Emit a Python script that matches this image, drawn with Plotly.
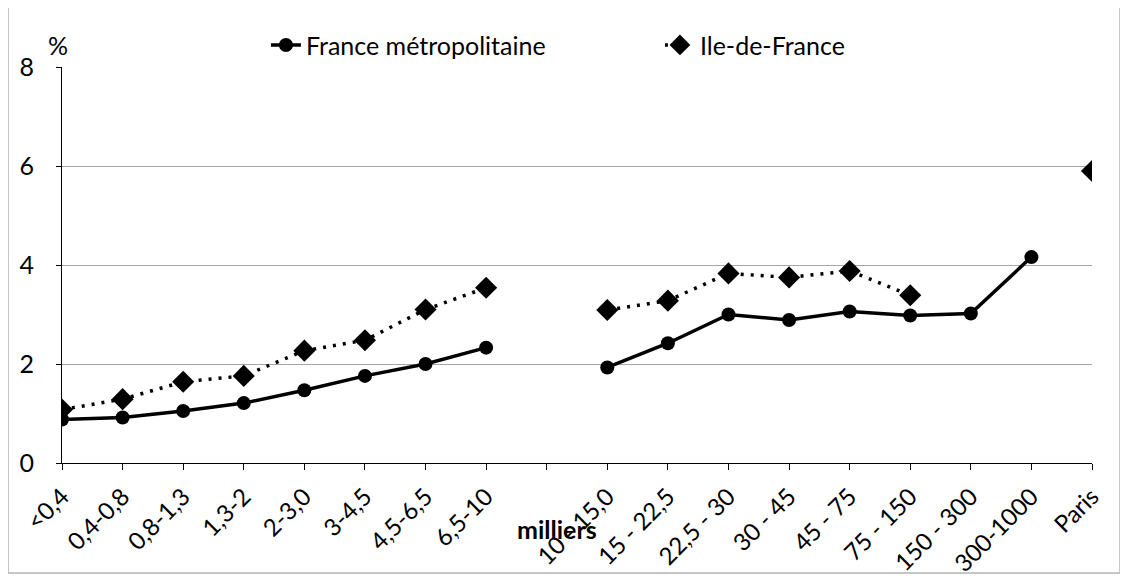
import plotly.graph_objects as go

categories = ["<0,4", "0,4-0,8", "0,8-1,3", "1,3-2", "2-3,0", "3-4,5", "4,5-6,5", "6,5-10", " ",
              "10 - 15,0", "15 - 22,5", "22,5 - 30", "30 - 45", "45 - 75", "75 - 150",
              "150 - 300", "300-1000", "Paris"]
france_metro = [0.88, 0.92, 1.05, 1.21, 1.47, 1.76, 2.00, 2.33, None,
                1.93, 2.42, 3.00, 2.89, 3.06, 2.98, 3.02, 4.16, None]
ile_de_france = [1.08, 1.29, 1.64, 1.76, 2.27, 2.48, 3.10, 3.54, None,
                 3.09, 3.28, 3.83, 3.75, 3.88, 3.39, None, None, 5.90]
y_ticks = [0, 2, 4, 6, 8]

FONT = "Lato"
FS = 25

fig = go.Figure()
fig.add_trace(go.Scatter(
    x=categories, y=france_metro, name="France métropolitaine",
    mode="lines+markers",
    line=dict(color="black", width=3.5),
    marker=dict(symbol="circle", size=14, color="black"),
    connectgaps=False,
))
fig.add_trace(go.Scatter(
    x=categories, y=ile_de_france, name="Ile-de-France",
    mode="lines+markers",
    line=dict(color="black", width=3.5, dash="3px,7px"),
    marker=dict(symbol="diamond", size=17, color="black"),
    connectgaps=False,
))

# page body has an 8px margin, so the margins are shifted by 8px
fig.update_layout(
    width=1128, height=581,
    margin=dict(l=54, r=44, t=59, b=126, autoexpand=False),
    paper_bgcolor="white", plot_bgcolor="white",
    font=dict(family=FONT, size=FS, color="black"),
    showlegend=True,
    legend=dict(orientation="h", x=0.198, xanchor="left", y=1.055, yanchor="middle",
                font=dict(family=FONT, size=FS), entrywidth=349, entrywidthmode="pixels",
                bgcolor="rgba(0,0,0,0)", traceorder="normal"),
    xaxis=dict(type="category", categoryorder="array", categoryarray=categories,
               range=[0, 17], showgrid=False, showline=True, linecolor="black", linewidth=1.2,
               ticks="outside", ticklen=6, tickcolor="black", tickangle=-45,
               tickfont=dict(family=FONT, size=24), zeroline=False, automargin=False,
               ticklabelstandoff=3),
    yaxis=dict(range=[0, 8], tickvals=y_ticks, showgrid=True, gridcolor="#a6a6a6", gridwidth=1.2,
               showline=True, linecolor="black", linewidth=1.2, ticks="outside", ticklen=5,
               tickcolor="black", tickfont=dict(family=FONT, size=FS), zeroline=False,
               ticklabelstandoff=17, automargin=False),
    annotations=[
        dict(text="%", xref="paper", yref="paper", x=-0.0035, y=1.055, showarrow=False,
             font=dict(family=FONT, size=FS), xanchor="center", yanchor="middle"),
        dict(text="<b>milliers</b>", xref="paper", yref="paper", x=0.481, y=-0.167,
             showarrow=False, font=dict(family=FONT, size=FS), xanchor="center", yanchor="middle"),
    ],
    shapes=[
        dict(type="rect", xref="paper", yref="paper", x0=-0.0524, x1=1.0272, y0=-0.2778, y1=1.1515,
             line=dict(color="#b4b4b4", width=1.5), fillcolor="rgba(0,0,0,0)", layer="below"),
    ],
)

fig.write_html("out.html")
